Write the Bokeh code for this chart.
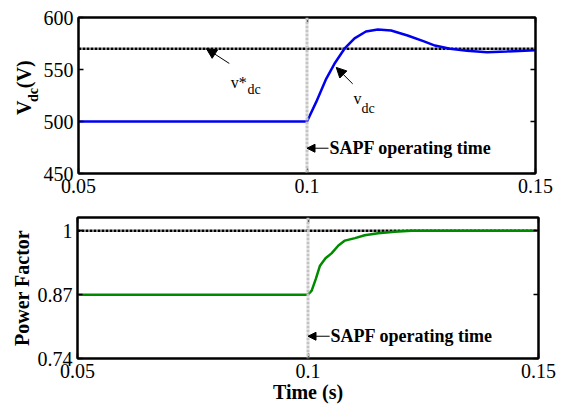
import math
from bokeh.plotting import figure
from bokeh.layouts import column, row
from bokeh.models import (Range1d, FixedTicker, LinearAxis, Span, Label,
                          Arrow, NormalHead, CustomJSTickFormatter)
from bokeh.core.properties import value
from bokeh.embed import file_html
from bokeh.resources import INLINE

# DC-link voltage response (s, V)
t_vdc = [0.05, 0.1, 0.1020, 0.1042, 0.1060, 0.1082, 0.1104, 0.1129, 0.1155,
         0.1184, 0.1220, 0.1256, 0.1280, 0.1313, 0.1350, 0.1394, 0.1437, 0.15]
vdc = [500, 500, 518.6, 541, 555.5, 570, 580, 586.5, 588.5,
       587.5, 582.7, 577, 573, 570, 568, 566.7, 567.3, 568.5]
vdc_ref = 570

# Source power factor (s, p.u.)
t_pf = [0.05, 0.1, 0.1008, 0.1017, 0.1026, 0.1038, 0.1051, 0.1066, 0.108,
        0.1102, 0.1123, 0.1152, 0.1188, 0.1224, 0.15]
pf = [0.87, 0.87, 0.878, 0.902, 0.929, 0.944, 0.954, 0.970, 0.980,
      0.985, 0.991, 0.995, 0.998, 1.0, 1.0]
pf_ref = 1.0

t_on = 0.1
x_ticks = [0.05, 0.1, 0.15]
x_tick_labels = {0.05: "0.05", 0.1: "0.1", 0.15: "0.15"}
vdc_ticks = [450, 500, 550, 600]
pf_ticks = [0.74, 0.87, 1.0]
pf_tick_labels = {0.74: "0.74", 0.87: "0.87", 1.0: "1"}

SERIF = "Liberation Serif"
half_pi = math.pi / 2


def mirror_axis(ticks):
    # tick marks only, pointing into the frame
    return LinearAxis(ticker=FixedTicker(ticks=ticks), major_tick_in=5,
                      major_tick_out=0, major_label_standoff=0,
                      formatter=CustomJSTickFormatter(code="return ''"),
                      minor_tick_line_color=None, axis_line_width=2,
                      major_tick_line_width=1.5)


def style(p, yticks, ylabels=None, xtitle=None, ytitle=None):
    p.grid.visible = False
    p.outline_line_color = "black"
    p.outline_line_width = 2
    p.xaxis.ticker = FixedTicker(ticks=x_ticks)
    p.xaxis.major_label_overrides = x_tick_labels
    p.yaxis.ticker = FixedTicker(ticks=yticks)
    if ylabels:
        p.yaxis.major_label_overrides = ylabels
    for ax in p.xaxis + p.yaxis:
        ax.axis_line_width = 2
        ax.axis_line_color = "black"
        ax.major_tick_in = 5
        ax.major_tick_out = 0
        ax.major_tick_line_width = 1.5
        ax.minor_tick_line_color = None
        ax.major_label_text_font = SERIF
        ax.major_label_text_font_size = "20px"
        ax.major_label_text_color = "black"
        ax.major_label_standoff = 5
        ax.axis_label_text_font = SERIF
        ax.axis_label_text_font_size = "20px"
        ax.axis_label_text_font_style = "bold"
        ax.axis_label_text_color = "black"
    if xtitle:
        p.xaxis.axis_label = xtitle
        p.xaxis.axis_label_standoff = 0
    if ytitle:
        p.yaxis.axis_label = ytitle
        p.yaxis.axis_label_standoff = 2
    p.add_layout(mirror_axis(yticks), "right")
    p.add_layout(mirror_axis(x_ticks), "above")


def arrow(p, x0, y0, x1, y1, size=10):
    p.add_layout(Arrow(end=NormalHead(size=size, fill_color="black",
                                      line_color="black", line_width=1),
                       x_start=x0, y_start=y0, x_end=x1, y_end=y1,
                       line_color="black", line_width=1))


def label(p, x, y, text, size, bold=False, baseline="alphabetic"):
    p.add_layout(Label(x=x, y=y, text=text, text_font=SERIF,
                       text_font_size=size,
                       text_font_style="bold" if bold else "normal",
                       text_align="left", text_baseline=baseline,
                       text_color="black"))


# ---- y-axis title strip for the voltage panel (pixel coordinates) ----
strip_w = 40
ylab = figure(width=strip_w, height=203, output_backend="svg",
              toolbar_location=None,
              x_range=Range1d(0, strip_w), y_range=Range1d(0, 203),
              x_axis_location=None, y_axis_location=None, min_border=0)
ylab.grid.visible = False
ylab.outline_line_color = None
ylab.text(x=[23], y=[76], text=["V"], angle=half_pi,
          text_font=value(SERIF), text_font_style="bold",
          text_font_size="20px", text_baseline="alphabetic", text_align="left")
ylab.text(x=[33], y=[93], text=["dc"], angle=half_pi,
          text_font=value(SERIF), text_font_style="bold",
          text_font_size="14px", text_baseline="alphabetic", text_align="left")
ylab.text(x=[23], y=[111], text=["(V)"], angle=half_pi,
          text_font=value(SERIF), text_font_style="bold",
          text_font_size="20px", text_baseline="alphabetic", text_align="left")

# ---- DC-link voltage panel ----
p1 = figure(width=561 - strip_w, height=203, output_backend="svg",
            toolbar_location=None,
            x_range=Range1d(0.05, 0.15), y_range=Range1d(450, 600),
            min_border_left=78 - strip_w, min_border_right=26,
            min_border_top=17, min_border_bottom=30)
style(p1, vdc_ticks)
p1.line([0.05, 0.15], [vdc_ref, vdc_ref], line_color="black", line_width=2.5,
        line_dash="3 1")
p1.add_layout(Span(location=t_on, dimension="height", line_color="#c4c4c4",
                   line_width=3, line_dash="3 1"))
p1.line(t_vdc, vdc, line_color="#0000f0", line_width=2.5)

arrow(p1, 0.0830, 555.8, 0.0780, 570.0)
label(p1, 0.0833, 537.5, "v*", "16px")
label(p1, 0.0870, 530.8, "dc", "14px")
arrow(p1, 0.1100, 536.2, 0.1064, 552.0)
label(p1, 0.1102, 522.1, "v", "16px")
label(p1, 0.1119, 512.5, "dc", "14px")
arrow(p1, 0.1047, 474.3, t_on, 474.3, size=8)
label(p1, 0.1049, 474.3, "SAPF operating time", "18px", bold=True,
      baseline="middle")

# ---- power factor panel ----
p2 = figure(width=561, height=202, output_backend="svg", toolbar_location=None,
            x_range=Range1d(0.05, 0.15), y_range=Range1d(0.74, 1.027),
            min_border_left=77, min_border_right=23, min_border_top=14,
            min_border_bottom=46)
style(p2, pf_ticks, pf_tick_labels, xtitle="Time (s)", ytitle="Power Factor")
p2.line([0.05, 0.15], [pf_ref, pf_ref], line_color="black", line_width=2.5,
        line_dash="3 1")
p2.add_layout(Span(location=t_on, dimension="height", line_color="#c4c4c4",
                   line_width=3, line_dash="3 1"))
p2.line(t_pf, pf, line_color="#008a00", line_width=2.5)

arrow(p2, 0.1047, 0.7853, t_on, 0.7853, size=8)
label(p2, 0.1049, 0.7853, "SAPF operating time", "18px", bold=True,
      baseline="middle")

layout = column(row(ylab, p1, spacing=0), p2, spacing=0)
open("out.html", "w").write(file_html(layout, INLINE))
